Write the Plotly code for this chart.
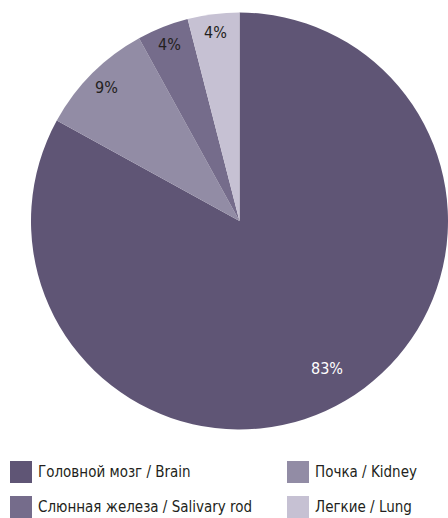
import math
import plotly.graph_objects as go

labels = ["Головной мозг / Brain", "Почка / Kidney", "Слюнная железа / Salivary rod", "Легкие / Lung"]
values = [83, 9, 4, 4]
colors = ["#5f5575", "#928ca5", "#756c8b", "#c6c1d3"]
text_colors = ["#ffffff", "#231f20", "#231f20", "#231f20"]
label_radius = [0.82, 0.90, 0.91, 0.91]  # style: radial placement of percent labels

FONT = "DejaVu Sans Condensed, Liberation Sans Narrow, sans-serif"
W, H = 448, 518

# pie geometry in pixels
px0, px1 = 31, 449
py0, py1 = 12, 430
cx, cy = (px0 + min(px1, W)) / 2, (py0 + py1) / 2
R = (py1 - py0) / 2

fig = go.Figure(go.Pie(
    labels=labels,
    values=values,
    sort=False,
    direction="clockwise",
    rotation=0,
    marker=dict(colors=colors, line=dict(width=0)),
    textinfo="none",
    domain=dict(x=[px0 / W, 1.0], y=[1 - py1 / H, 1 - py0 / H]),
    showlegend=False,
    hoverinfo="label+value",
))

annotations = []
shapes = []

# percent labels at slice mid-angles
total = sum(values)
cum = 0
for v, tc, rf in zip(values, text_colors, label_radius):
    mid = (cum + v / 2) / total * 2 * math.pi
    cum += v
    x = cx + rf * R * math.sin(mid)
    y = cy - rf * R * math.cos(mid)
    annotations.append(dict(xref="paper", yref="paper", x=x / W, y=1 - y / H,
                            xanchor="center", yanchor="middle", showarrow=False,
                            text=f"{v}%", font=dict(family=FONT, size=16, color=tc)))

# custom legend: 2 columns x 2 rows
legend_pos = [(10, 472), (287, 472), (10, 507), (287, 507)]
for (x, y), lab, col in zip(legend_pos, labels, colors):
    shapes.append(dict(type="rect", xref="paper", yref="paper",
                       x0=x / W, x1=(x + 22) / W, y0=1 - (y + 11) / H, y1=1 - (y - 11) / H,
                       fillcolor=col, line=dict(width=0)))
    annotations.append(dict(xref="paper", yref="paper", x=(x + 26) / W, y=1 - y / H,
                            xanchor="left", yanchor="middle", showarrow=False,
                            text=lab, font=dict(family=FONT, size=15, color="#231f20")))

fig.update_layout(
    width=W, height=H,
    margin=dict(l=0, r=0, t=0, b=0),
    paper_bgcolor="white",
    plot_bgcolor="white",
    shapes=shapes,
    annotations=annotations,
)

fig.write_html("out.html", config={"displayModeBar": False},
               post_script="document.body.style.margin='0';document.body.style.overflow='hidden';")
